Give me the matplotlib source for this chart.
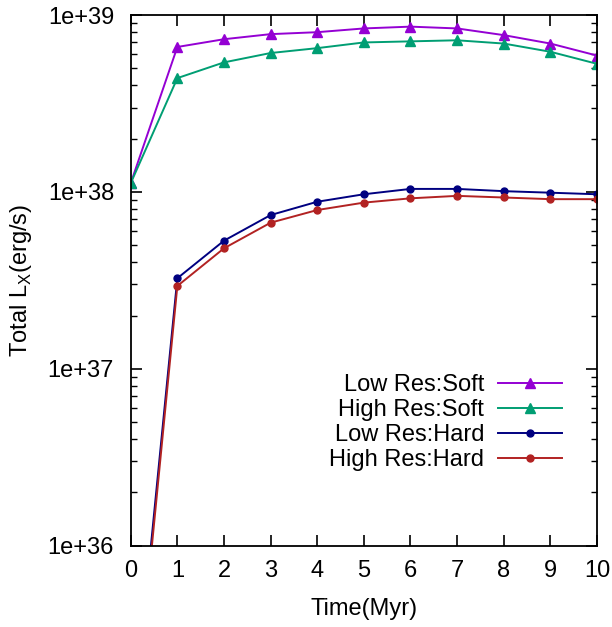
import numpy as np
import matplotlib.pyplot as plt
from matplotlib.ticker import FixedLocator, LogLocator, NullFormatter

plt.rcParams['font.family'] = ['Liberation Sans', 'DejaVu Sans']

# Zaman (Myr)
time = [0, 1, 2, 3, 4, 5, 6, 7, 8, 9, 10]

# Toplam X-ışını parlaklığı (erg/s)
low_soft = [1.12e38, 6.6e38, 7.3e38, 7.8e38, 8.0e38, 8.4e38, 8.6e38, 8.4e38, 7.7e38, 6.9e38, 5.9e38]
high_soft = [1.12e38, 4.4e38, 5.4e38, 6.1e38, 6.5e38, 7.0e38, 7.1e38, 7.2e38, 6.9e38, 6.2e38, 5.3e38]
low_hard = [7e34, 3.25e37, 5.3e37, 7.4e37, 8.8e37, 9.7e37, 1.04e38, 1.04e38, 1.01e38, 9.9e37, 9.7e37]
high_hard = [6e34, 2.94e37, 4.8e37, 6.7e37, 7.9e37, 8.7e37, 9.2e37, 9.5e37, 9.3e37, 9.1e37, 9.1e37]

y_ticks = [1e36, 1e37, 1e38, 1e39]
y_tick_labels = ['1e+36', '1e+37', '1e+38', '1e+39']
x_ticks = [0, 1, 2, 3, 4, 5, 6, 7, 8, 9, 10]

fig = plt.figure(figsize=(6.12, 6.27), dpi=100)
ax = fig.add_axes([0.2136, 0.1297, 0.7619, 0.8463])

ax.plot(time, low_soft, color='#9400d3', marker='^', markersize=7, linewidth=1.4, label='Low Res:Soft')
ax.plot(time, high_soft, color='#009e73', marker='^', markersize=7, linewidth=1.4, label='High Res:Soft')
ax.plot(time, low_hard, color='#000080', marker='o', markersize=5, linewidth=1.4, label='Low Res:Hard')
ax.plot(time, high_hard, color='#b22222', marker='o', markersize=5, linewidth=1.4, label='High Res:Hard')

ax.set_yscale('log')
ax.set_xlim(0, 10)
ax.set_ylim(1e36, 1e39)

ax.xaxis.set_major_locator(FixedLocator(x_ticks))
ax.yaxis.set_major_locator(FixedLocator(y_ticks))
ax.set_yticklabels(y_tick_labels)
ax.yaxis.set_minor_locator(LogLocator(base=10, subs=np.arange(2, 10)))
ax.yaxis.set_minor_formatter(NullFormatter())

ax.tick_params(which='major', direction='in', length=8, width=1.2, top=True, right=True, labelsize=17)
ax.tick_params(axis='x', which='major', pad=10)
ax.tick_params(axis='y', which='major', pad=12)
ax.tick_params(which='minor', direction='in', length=4, width=1.0, top=True, right=True)
for spine in ax.spines.values():
    spine.set_linewidth(1.3)

ax.set_xlabel('Time(Myr)', fontsize=17, labelpad=12)
ax.set_ylabel('Total L$_\\mathregular{X}$(erg/s)', fontsize=17, labelpad=10)

ax.legend(loc='upper right', bbox_to_anchor=(0.925, 0.323), frameon=False, markerfirst=False,
          fontsize=17, handlelength=2.7, handletextpad=0.6, labelspacing=0.12, borderpad=0,
          borderaxespad=0)

fig.savefig('out.png', dpi=100)
